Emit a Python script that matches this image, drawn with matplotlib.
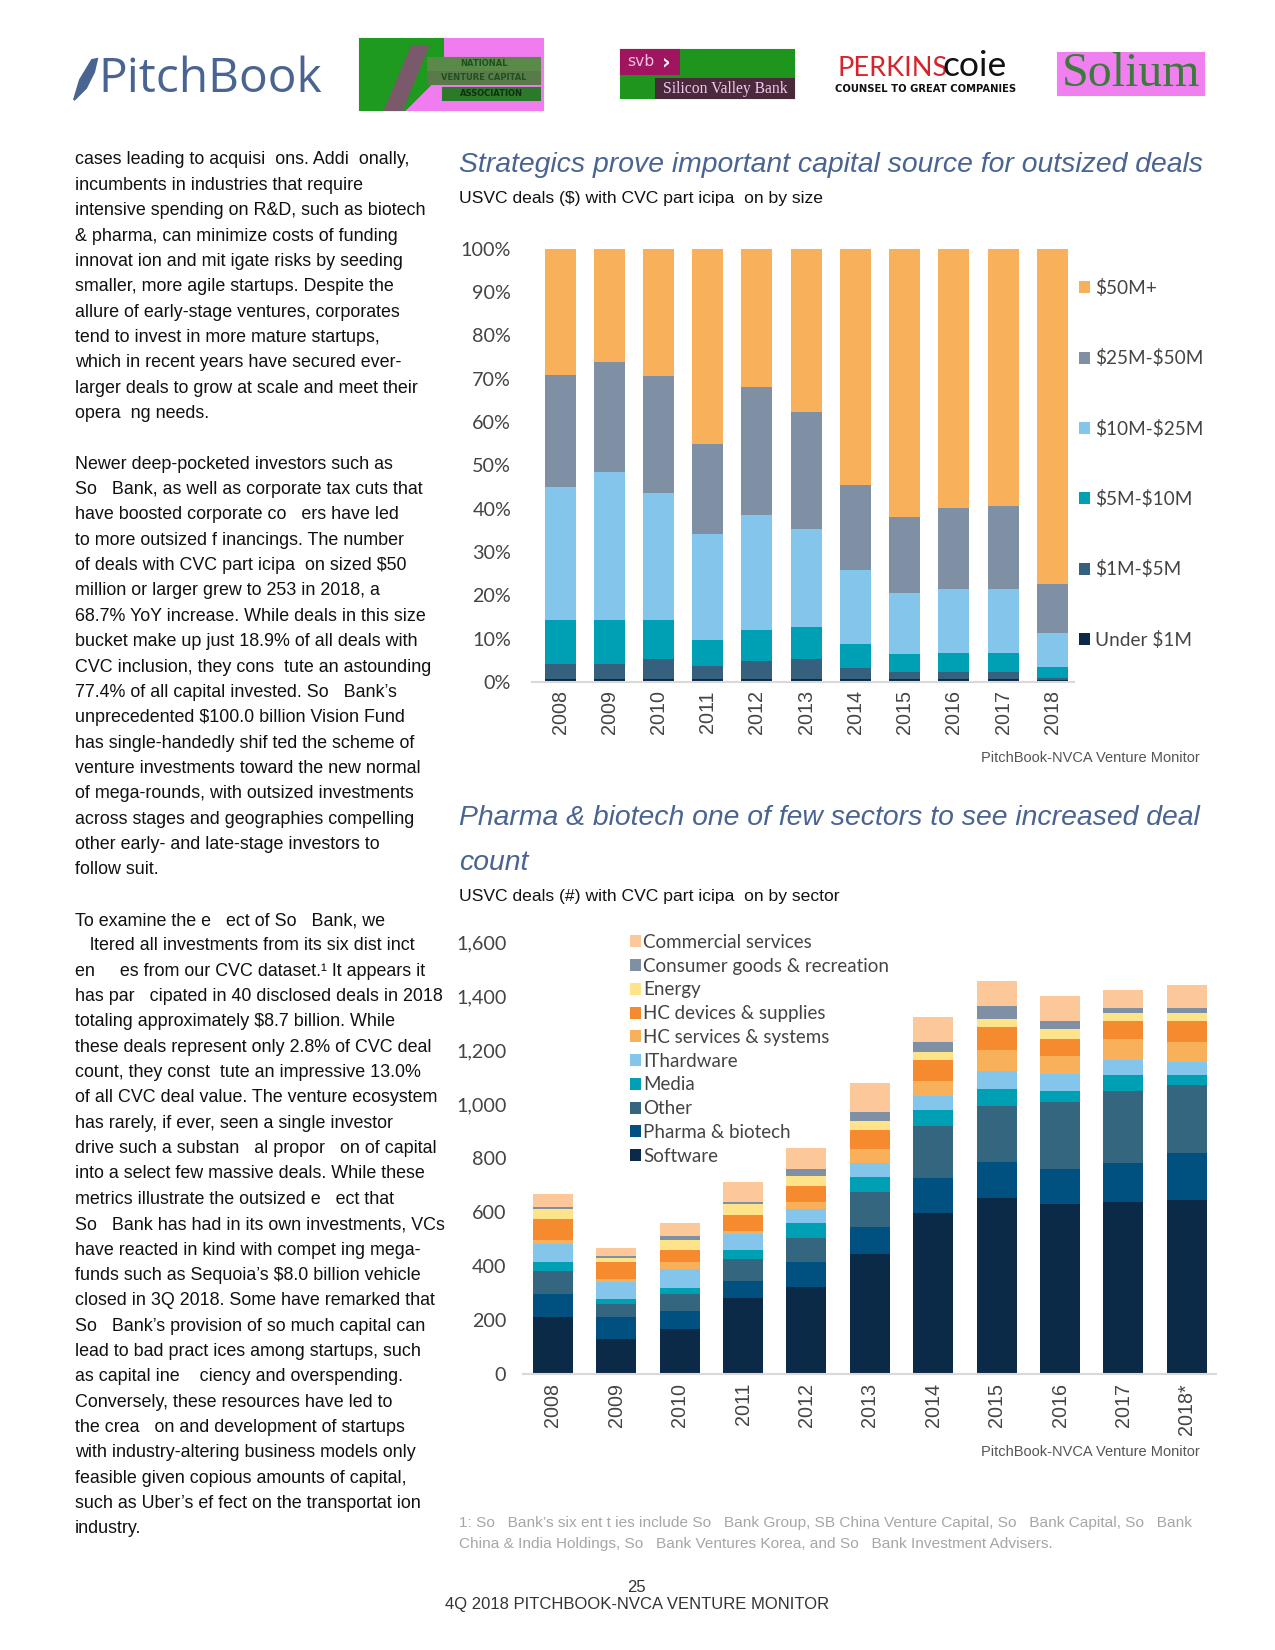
import numpy as np
import matplotlib
matplotlib.use("Agg")
from matplotlib import pyplot as plt
from matplotlib.patches import Rectangle, Polygon

plt.rcParams["text.parse_math"] = False

W, H = 1275, 1650

# ---- chart 1 data: share of CVC deal value by size bucket (%)
years_size = ["2008", "2009", "2010", "2011", "2012", "2013", "2014", "2015", "2016", "2017", "2018"]
size_labels = ["Under $1M", "$1M-$5M", "$5M-$10M", "$10M-$25M", "$25M-$50M", "$50M+"]
under_1m = [0.6, 0.6, 0.6, 0.6, 0.6, 0.6, 0.6, 0.6, 0.6, 0.6, 0.4]
m1_5 = [3.6, 3.6, 4.8, 3.2, 4.3, 4.8, 2.7, 1.8, 1.8, 1.8, 0.6]
m5_10 = [10.0, 10.0, 8.8, 6.0, 7.2, 7.4, 5.5, 4.0, 4.4, 4.4, 2.4]
m10_25 = [30.8, 34.2, 29.3, 24.4, 26.4, 22.5, 17.1, 14.2, 14.7, 14.7, 7.8]
m25_50 = [25.9, 25.5, 27.0, 20.6, 29.5, 26.9, 19.5, 17.5, 18.7, 19.1, 11.4]
m50_plus = [29.1, 26.1, 29.5, 45.2, 32.0, 37.8, 54.6, 61.9, 59.8, 59.4, 77.4]
size_colors = ["#0b2a47", "#35607e", "#00a0b4", "#84c5ec", "#7f8fa4", "#f9b05a"]

# ---- chart 2 data: CVC deal count by sector
years_sector = ["2008", "2009", "2010", "2011", "2012", "2013", "2014", "2015", "2016", "2017", "2018*"]
sector_labels = ["Software", "Pharma & biotech", "Other", "Media", "IThardware",
                 "HC services & systems", "HC devices & supplies", "Energy",
                 "Consumer goods & recreation", "Commercial services"]
software = [212, 131, 168, 282, 324, 446, 596, 651, 629, 636, 644]
pharma = [86, 81, 64, 63, 89, 99, 129, 136, 129, 144, 173]
other = [84, 48, 66, 80, 90, 128, 192, 207, 250, 269, 255]
media = [31, 16, 21, 35, 56, 56, 62, 63, 41, 60, 37]
it_hardware = [70, 63, 71, 59, 53, 52, 52, 67, 61, 54, 46]
hc_services = [12, 13, 23, 11, 24, 51, 55, 76, 68, 78, 74]
hc_devices = [80, 61, 47, 58, 59, 70, 77, 85, 63, 66, 78]
energy = [37, 17, 37, 41, 40, 34, 29, 29, 36, 30, 30]
consumer = [6, 8, 15, 7, 23, 35, 37, 49, 30, 18, 18]
commercial = [47, 28, 47, 74, 78, 107, 93, 92, 92, 66, 85]
sector_colors = ["#0b2a47", "#00517f", "#35667f", "#00a0b4", "#84c5ec",
                 "#f9b05a", "#f58a2e", "#fde38a", "#7f8fa4", "#fcc89a"]

title_color = "#4a6491"

body_lines = [
    "cases leading to acquisi  ons. Addi  onally,",
    "incumbents in industries that require",
    "intensive spending on R&D, such as biotech",
    "& pharma, can minimize costs of funding",
    "innovat ion and mit igate risks by seeding",
    "smaller, more agile startups. Despite the",
    "allure of early-stage ventures, corporates",
    "tend to invest in more mature startups,",
    "which in recent years have secured ever-",
    "larger deals to grow at scale and meet their",
    "opera  ng needs.",
    "",
    "Newer deep-pocketed investors such as",
    "So   Bank, as well as corporate tax cuts that",
    "have boosted corporate co   ers have led",
    "to more outsized f inancings. The number",
    "of deals with CVC part icipa  on sized $50",
    "million or larger grew to 253 in 2018, a",
    "68.7% YoY increase. While deals in this size",
    "bucket make up just 18.9% of all deals with",
    "CVC inclusion, they cons  tute an astounding",
    "77.4% of all capital invested. So   Bank\u2019s",
    "unprecedented $100.0 billion Vision Fund",
    "has single-handedly shif ted the scheme of",
    "venture investments toward the new normal",
    "of mega-rounds, with outsized investments",
    "across stages and geographies compelling",
    "other early- and late-stage investors to",
    "follow suit.",
    "",
    "To examine the e   ect of So   Bank, we",
    "   ltered all investments from its six dist inct",
    "en     es from our CVC dataset.\u00b9 It appears it",
    "has par   cipated in 40 disclosed deals in 2018",
    "totaling approximately $8.7 billion. While",
    "these deals represent only 2.8% of CVC deal",
    "count, they const  tute an impressive 13.0%",
    "of all CVC deal value. The venture ecosystem",
    "has rarely, if ever, seen a single investor",
    "drive such a substan   al propor   on of capital",
    "into a select few massive deals. While these",
    "metrics illustrate the outsized e   ect that",
    "So   Bank has had in its own investments, VCs",
    "have reacted in kind with compet ing mega-",
    "funds such as Sequoia\u2019s $8.0 billion vehicle",
    "closed in 3Q 2018. Some have remarked that",
    "So   Bank\u2019s provision of so much capital can",
    "lead to bad pract ices among startups, such",
    "as capital ine    ciency and overspending.",
    "Conversely, these resources have led to",
    "the crea   on and development of startups",
    "with industry-altering business models only",
    "feasible given copious amounts of capital,",
    "such as Uber\u2019s ef fect on the transportat ion",
    "industry.",
]

footnote_lines = [
    "1: So   Bank\u2019s six ent t ies include So   Bank Group, SB China Venture Capital, So   Bank Capital, So   Bank",
    "China & India Holdings, So   Bank Ventures Korea, and So   Bank Investment Advisers.",
]


def px_axes(fig, left, top, right, bottom):
    return fig.add_axes([left / W, 1 - bottom / H, (right - left) / W, (bottom - top) / H])


fig = plt.figure(figsize=(8.5, 11), dpi=150)

# page overlay in pixel coordinates
page = fig.add_axes([0, 0, 1, 1], zorder=0)
page.set_xlim(0, W)
page.set_ylim(H, 0)
page.axis("off")

# ---- logos
feather = Polygon([(74, 100), (80, 80), (92, 60), (97, 59), (94, 72), (86, 88), (78, 96)],
                  closed=True, color=title_color)
page.add_patch(feather)
page.text(98, 79, "PitchBook", fontsize=23, family="Open Sans", color=title_color,
          va="center", ha="left")

page.add_patch(Rectangle((360, 39), 183, 71, color="#f07cf0"))
page.add_patch(Polygon([(360, 39), (443, 39), (443, 72), (405, 110), (360, 110)], color="#1e9a1e"))
page.add_patch(Polygon([(385, 110), (412, 46), (428, 46), (402, 110)], color="#7a5a6a"))
page.add_patch(Rectangle((428, 58), 112, 12, color="#5a8a4a"))
page.add_patch(Rectangle((428, 72), 112, 12, color="#5a7a4a"))
page.add_patch(Rectangle((443, 88), 97, 12, color="#2a7a2a"))
page.text(484, 64, "NATIONAL", fontsize=4, color="#205020", ha="center", va="center", fontweight="bold")
page.text(484, 78, "VENTURE CAPITAL", fontsize=4, color="#205020", ha="center", va="center", fontweight="bold")
page.text(491, 94, "ASSOCIATION", fontsize=4, color="#103010", ha="center", va="center", fontweight="bold")

page.add_patch(Rectangle((621, 50), 173, 48, color="#1e961e"))
page.add_patch(Rectangle((621, 50), 58, 24, color="#a01460"))
page.add_patch(Rectangle((656, 79), 138, 19, color="#4a2a3a"))
page.text(627, 62, "svb", fontsize=7.5, color="#f0c0e0", va="center", ha="left")
page.text(662, 62, "\u203a", fontsize=10, color="#ffffff", va="center", ha="left", fontweight="bold")
page.text(725, 89, "Silicon Valley Bank", fontsize=7.5, family="Liberation Serif",
          color="#f0c8f0", va="center", ha="center")

page.text(838, 68, "PERKINS", fontsize=13, family="Lato", color="#d8232a",
          va="center", ha="left")
page.text(943, 66, "coie", fontsize=17, family="Lato", color="#111111",
          va="center", ha="left")
page.text(926, 89, "COUNSEL TO GREAT COMPANIES", fontsize=4.8, fontweight="bold",
          color="#111111", va="center", ha="center")

page.add_patch(Rectangle((1058, 53), 146, 42, color="#f080f0"))
page.text(1131, 74, "Solium", fontsize=23, family="Liberation Serif", color="#3c7a3c",
          va="center", ha="center")

# ---- body text
for i, line in enumerate(body_lines):
    page.text(75, 160 + i * 25.35, line, fontsize=8.6, family="Liberation Sans",
              color="#111111", va="center", ha="left")

# ---- titles
page.text(459, 165, "Strategics prove important capital source for outsized deals",
          fontsize=13.6, style="italic", family="Liberation Sans", color=title_color,
          va="center", ha="left")
page.text(459, 198, "USVC deals ($) with CVC part icipa  on by size", fontsize=8.4,
          family="Liberation Sans", color="#111111", va="center", ha="left")
page.text(1200, 758, "PitchBook-NVCA Venture Monitor", fontsize=7, family="Liberation Sans",
          color="#555555", va="center", ha="right")

page.text(459, 818, "Pharma & biotech one of few sectors to see increased deal",
          fontsize=13.6, style="italic", family="Liberation Sans", color=title_color,
          va="center", ha="left")
page.text(459, 863, "count", fontsize=13.6, style="italic", family="Liberation Sans",
          color=title_color, va="center", ha="left")
page.text(459, 897, "USVC deals (#) with CVC part icipa  on by sector", fontsize=8.4,
          family="Liberation Sans", color="#111111", va="center", ha="left")
page.text(1200, 1452, "PitchBook-NVCA Venture Monitor", fontsize=7, family="Liberation Sans",
          color="#555555", va="center", ha="right")

for i, line in enumerate(footnote_lines):
    page.text(459, 1523 + i * 21, line, fontsize=7.4, family="Liberation Sans",
              color="#a6a6a6", va="center", ha="left")

page.text(636, 1587, "25", fontsize=8, family="Liberation Sans", color="#333333",
          va="center", ha="center")
page.text(637, 1604, "4Q 2018 PITCHBOOK-NVCA VENTURE MONITOR", fontsize=8,
          family="Liberation Sans", color="#333333", va="center", ha="center")


def style_axes(ax, pad_y, pad_x):
    for s in ["top", "right", "left"]:
        ax.spines[s].set_visible(False)
    ax.spines["bottom"].set_color("#d9d9d9")
    ax.spines["bottom"].set_linewidth(1.0)
    ax.tick_params(axis="both", length=0)
    ax.tick_params(axis="y", pad=pad_y)
    ax.tick_params(axis="x", pad=pad_x)
    for lab in ax.get_yticklabels():
        lab.set_family("Lato")
        lab.set_fontsize(9.5)
        lab.set_color("#444444")
    for lab in ax.get_xticklabels():
        lab.set_family("Liberation Sans")
        lab.set_fontsize(9.5)
        lab.set_rotation(90)
        lab.set_color("#444444")
    ax.patch.set_alpha(0)


# ---- chart 1
ax1 = px_axes(fig, 532, 248.5, 1074, 682)
x1 = np.arange(len(years_size))
bottom = np.zeros(len(years_size))
handles1 = []
for vals, lab, col in zip([under_1m, m1_5, m5_10, m10_25, m25_50, m50_plus], size_labels, size_colors):
    b = ax1.bar(x1, vals, bottom=bottom, width=0.63, color=col, label=lab, linewidth=0)
    handles1.append(b)
    bottom += np.array(vals)
ax1.set_xlim(-0.57, 10.44)
ax1.set_ylim(0, 100)
ax1.set_yticks(np.arange(0, 101, 10))
ax1.set_yticklabels([f"{v}%" for v in range(0, 101, 10)])
ax1.set_xticks(x1)
ax1.set_xticklabels(years_size)
style_axes(ax1, 10, 4)
leg1 = ax1.legend(handles1[::-1], size_labels[::-1], loc="upper left",
                  bbox_to_anchor=(1079 / W, 1 - 279 / H), bbox_transform=fig.transFigure,
                  frameon=False, handlelength=0.6, handleheight=0.6, handletextpad=0.25,
                  labelspacing=2.76, borderpad=0, borderaxespad=0,
                  prop={"family": "Lato", "size": 9.1})
for t in leg1.get_texts():
    t.set_color("#444444")

# ---- chart 2
ax2 = px_axes(fig, 523, 942, 1216, 1374)
x2 = np.arange(len(years_sector))
bottom = np.zeros(len(years_sector))
handles2 = []
for vals, lab, col in zip([software, pharma, other, media, it_hardware, hc_services,
                           hc_devices, energy, consumer, commercial], sector_labels, sector_colors):
    b = ax2.bar(x2, vals, bottom=bottom, width=0.63, color=col, label=lab, linewidth=0)
    handles2.append(b)
    bottom += np.array(vals)
ax2.set_xlim(-0.47, 10.46)
ax2.set_ylim(0, 1600)
ax2.set_yticks(np.arange(0, 1601, 200))
ax2.set_yticklabels([f"{v:,}" for v in range(0, 1601, 200)])
ax2.set_xticks(x2)
ax2.set_xticklabels(years_sector)
style_axes(ax2, 8, 4.3)
leg2 = ax2.legend(handles2[::-1], sector_labels[::-1], loc="upper left",
                  bbox_to_anchor=(630 / W, 1 - 934 / H), bbox_transform=fig.transFigure,
                  frameon=False, handlelength=0.6, handleheight=0.6, handletextpad=0.1,
                  labelspacing=0.36, borderpad=0, borderaxespad=0,
                  prop={"family": "Lato", "size": 9.0})
for t in leg2.get_texts():
    t.set_color("#444444")

fig.savefig("out.png", dpi=150)
